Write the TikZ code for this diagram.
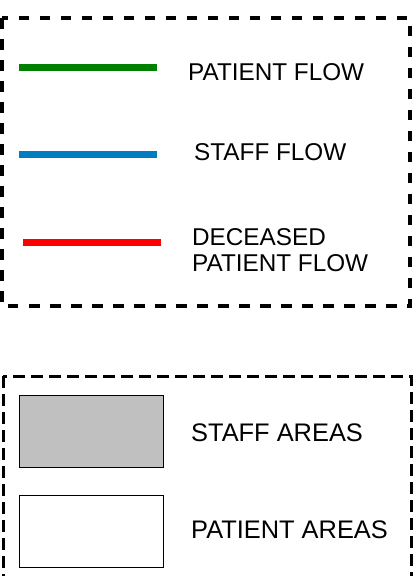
\documentclass[tikz,border=0pt]{standalone}
\usepackage{fontspec}
\setmainfont{Liberation Sans}
\usepackage{tikz}
\usetikzlibrary{positioning}
\definecolor{pflow}{RGB}{0,128,0}
\definecolor{sflow}{RGB}{0,124,192}
\definecolor{dflow}{RGB}{255,0,0}
\definecolor{sarea}{RGB}{192,192,192}
\tikzstyle{legbox} = [draw, line width=3.5pt, dash pattern=on 10.5pt off 10.5pt]
\tikzstyle{legbox2} = [draw, line width=3pt, dash pattern=on 12pt off 6pt]
\tikzstyle{flowline} = [line width=7pt]
\tikzstyle{areabox} = [draw, line width=1pt, minimum width=144pt, minimum height=72pt, inner sep=0pt]
\tikzstyle{lbl} = [anchor=west, inner sep=0pt, font=\fontsize{24.3}{26}\selectfont, align=left]
\tikzstyle{lbl2} = [anchor=west, inner sep=0pt, font=\fontsize{25.4}{28}\selectfont]

\begin{document}
\begin{tikzpicture}[x=1pt,y=-1pt]
\useasboundingbox (0,0) rectangle (416,576);
\clip (0,0) rectangle (416,576);
% flows
\draw [legbox] (2,18) rectangle (410,306);
\draw [flowline,color=pflow] (19,67) -- (157,67);
\draw [flowline,color=sflow] (19,154) -- (157,154);
\draw [flowline,color=dflow] (23,242) -- (161,242);
\node[lbl] (pf) at (188,72) {PATIENT FLOW};
\node[lbl] (sf) at (194,152) {STAFF FLOW};
\node[lbl] (df) at (192,250) {DECEASED\\PATIENT FLOW};
% areas
\draw [legbox2] (3,376) rectangle (411,600);
\node[areabox,fill=sarea,anchor=north west] (sa) at (19,395) {};
\node[areabox,fill=white,anchor=north west] (pa) at (19,495) {};
\node[lbl2] (sat) at (191,433) {STAFF AREAS};
\node[lbl2] (pat) at (191,530) {PATIENT AREAS};
\end{tikzpicture}
\end{document}
